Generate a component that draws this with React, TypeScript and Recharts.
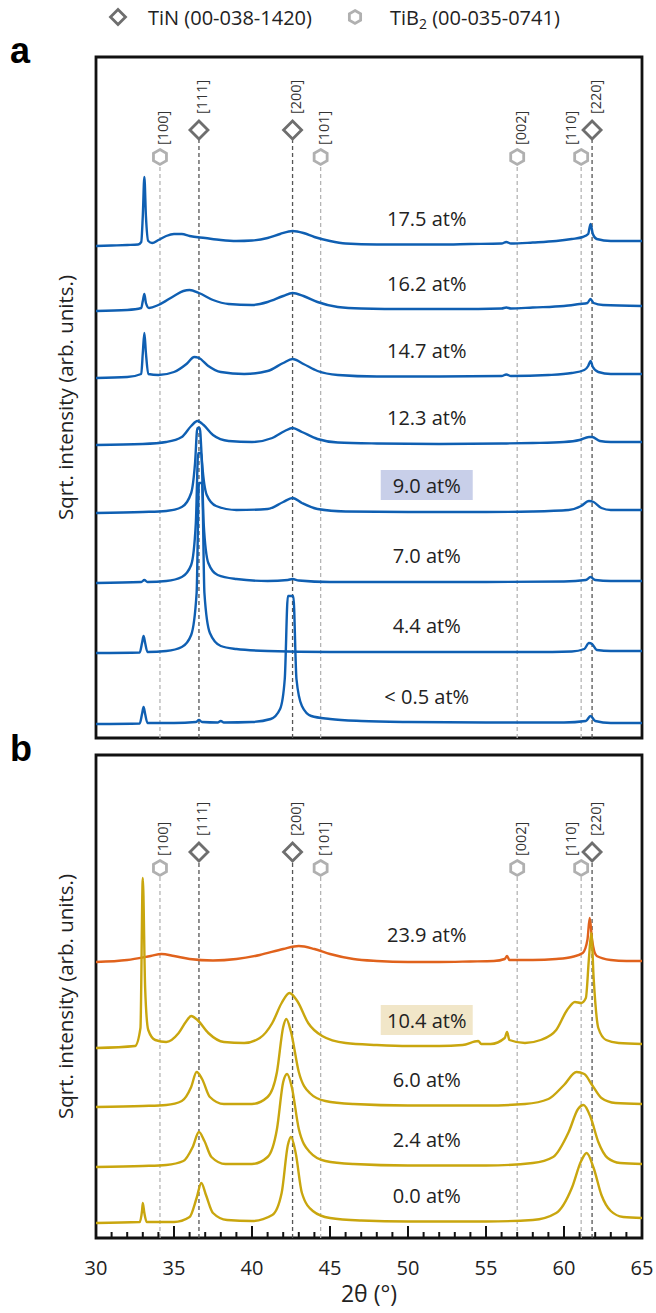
import React from "react";
import { LineChart, Line, XAxis, YAxis, ReferenceLine, ReferenceDot, ReferenceArea } from "recharts";

// 2θ positions of the reference reflections
const TIN_PEAKS = [36.6, 42.6, 61.8];
const TIN_HKL = ["[111]", "[200]", "[220]"];
const TIB2_PEAKS = [34.1, 44.4, 57.0, 61.1];
const TIB2_HKL = ["[100]", "[101]", "[002]", "[110]"];

const MAJOR_TICKS = [30, 35, 40, 45, 50, 55, 60, 65];

// panel a: labels, vertical offsets (arb.) and traces [2θ, sqrt intensity]
const LABELS_A = ["17.5 at%", "16.2 at%", "14.7 at%", "12.3 at%", "9.0 at%", "7.0 at%", "4.4 at%", "< 0.5 at%"];
const OFFSETS_A = [492, 427, 360, 293, 225, 155, 85, 14];

const A_175 = [[30,0],[31,0.5],[32,1],[32.7,1.5],[32.9,4],[33.0,30],[33.1,69],[33.2,30],[33.35,5],[33.6,3],[34,6],[34.5,10],[35,12],[35.5,12],[36,10],[37,8],[38,6],[39,5],[40,5.5],[41,8],[41.8,12],[42.6,15],[43.3,13],[44,9],[45,5],[46,2.5],[48,1.5],[50,1.5],[52,1.5],[54,2],[56,2.5],[56.3,4],[56.6,2.5],[58,3.5],[59.5,5],[60.5,7],[61.2,9],[61.55,12],[61.7,22],[61.85,12],[62.1,7],[63,5],[64,5],[65,5]];
const A_162 = [[30,0],[32,1],[32.9,3],[33.0,10],[33.1,17],[33.2,8],[33.4,3],[34,6],[35,15],[35.6,20],[36.0,21],[36.6,18],[37.5,11],[38.5,7],[40,6],[41,9],[42,15],[42.6,18],[43.3,15],[44.2,9],[45.5,4],[47,2.5],[50,2],[53,2],[56,2.5],[56.3,3.5],[56.6,2.5],[58,3.5],[60,5],[61,7],[61.5,8],[61.7,12],[61.9,8],[62.5,6],[65,5]];
const A_147 = [[30,0],[32,1],[32.9,4],[33.0,25],[33.1,45],[33.2,25],[33.35,4],[34,3],[35,6],[35.8,14],[36.3,21],[36.6,20],[37.2,12],[38,6],[39.5,4],[41,7],[42,15],[42.6,19],[43.3,14],[44.2,7],[45.5,3],[48,1.5],[52,1.5],[56,2],[56.3,3.5],[56.6,2],[59,3],[60.5,5],[61.3,8],[61.55,12],[61.7,17],[61.85,11],[62.2,6],[63,4],[65,4]];
const A_123 = [[30,0],[33,1],[34.5,3],[35.5,8],[36.1,19],[36.5,24],[36.9,20],[37.5,10],[38.5,4],[40,3],[41.3,7],[42.1,14],[42.6,17],[43.2,13],[44.2,6],[45.5,2.5],[48,1.5],[52,1],[56,1.5],[58,2],[60,3],[61,5],[61.6,8],[61.8,8],[62.3,4],[63,3],[65,3]];
const A_090 = [[30,0],[33,1],[34.5,2],[35.5,6],[36.1,20],[36.35,50],[36.5,85],[36.65,85],[36.8,50],[37.1,18],[37.7,7],[39,3],[41,4],[42,11],[42.6,15],[43.2,10],[44.2,4],[46,1.5],[50,1],[55,1],[58,1.5],[60.3,3],[61.1,7],[61.6,12],[61.9,11],[62.4,5],[63,3],[65,3]];
const A_070 = [[30,0],[32.9,1],[33.1,3],[33.3,1],[34.5,2],[35.5,6],[36.1,18],[36.4,60],[36.55,130],[36.75,130],[36.9,60],[37.2,20],[37.8,8],[39,4],[41,2],[42.3,3],[42.6,4],[43,2.5],[45,1],[50,1],[55,1],[60,1.5],[61.4,3],[61.7,6],[62,3],[63,2],[65,2]];
const A_044 = [[30,0],[32.8,0.5],[32.95,10],[33.05,17],[33.15,10],[33.3,1],[34.5,2],[35.5,6],[36.1,18],[36.45,60],[36.6,170],[36.8,170],[36.95,60],[37.3,20],[38,7],[39,4],[41,2],[45,1],[50,1],[55,1],[58,1],[60.5,1.5],[61.3,4],[61.6,10],[61.8,9],[62.1,3],[63,2],[65,2]];
const A_005 = [[30,0],[32.8,0.5],[32.95,10],[33.05,17],[33.15,10],[33.3,1],[35,1],[36.4,2],[36.6,4],[36.8,2],[37.8,1.5],[38.0,3],[38.2,1.5],[40,2],[41.2,5],[41.8,15],[42.1,45],[42.3,128],[42.65,128],[42.85,45],[43.2,18],[43.8,8],[45,5],[47,3],[50,2],[55,1.5],[60,1.5],[61.4,3],[61.7,8],[62,3],[63,1],[65,1]];
const TRACES_A = [A_175, A_162, A_147, A_123, A_090, A_070, A_044, A_005];

// panel b
const LABELS_B = ["23.9 at%", "10.4 at%", "6.0 at%", "2.4 at%", "0.0 at%"];
const OFFSETS_B = [276, 190, 131, 71, 15];

const B_239 = [[30,0],[32,2],[33.5,6],[34.2,8],[35,6],[36,3],[37.5,1.5],[39,3],[40.5,7],[42,13],[43,16],[44,13],[45,8],[46.5,3],[48,1],[50,0],[52,0],[54,0.5],[55.5,1],[56.2,3],[56.35,6],[56.5,2],[58,2],[59.5,3],[60.5,5],[61.2,9],[61.5,22],[61.65,44],[61.8,22],[62.1,6],[63,2],[64,1],[65,1]];
const B_104 = [[30,0],[32.5,2],[32.85,20],[33.0,170],[33.15,60],[33.35,18],[33.8,8],[34.5,6],[35.3,15],[35.8,27],[36.1,32],[36.5,28],[37.2,15],[38.2,6],[39.5,5],[40.5,10],[41.3,25],[41.9,45],[42.4,55],[42.9,47],[43.6,25],[44.5,12],[46,5],[48,3],[50,2],[52,2],[53.5,3],[54.5,7],[54.7,4],[55.3,4],[56.2,10],[56.35,16],[56.5,8],[57.5,5],[58.5,8],[59.5,18],[60.2,38],[60.7,46],[61.1,45],[61.4,50],[61.6,90],[61.75,115],[61.9,70],[62.2,20],[62.7,8],[63.5,5],[65,4]];
const B_060 = [[30,0],[33,1],[34.5,2],[35.5,6],[36.1,20],[36.45,35],[36.8,28],[37.3,10],[38.2,3],[40,3],[41,10],[41.6,35],[42.0,80],[42.2,88],[42.5,75],[43.0,35],[43.7,14],[44.7,6],[46.5,3],[50,1.5],[55,1.5],[57.5,3],[59,8],[60,22],[60.8,35],[61.3,33],[61.8,22],[62.4,9],[63.3,4],[65,3]];
const B_024 = [[30,0],[33,1],[34.5,2],[35.6,6],[36.2,20],[36.6,35],[36.95,26],[37.4,10],[38.3,3],[40,3],[41,10],[41.6,38],[42.0,85],[42.25,93],[42.55,80],[43.0,38],[43.7,15],[44.7,6],[46.5,3],[50,1.5],[55,1.5],[58,4],[59.3,10],[60.3,35],[60.9,58],[61.25,62],[61.7,50],[62.2,25],[62.8,9],[63.6,4],[65,3]];
const B_000 = [[30,0],[32.8,1],[32.95,12],[33.0,20],[33.1,10],[33.25,1],[35,1],[36,6],[36.45,25],[36.75,40],[37.05,28],[37.5,10],[38.4,3],[40,2],[41.3,8],[41.9,30],[42.3,78],[42.5,86],[42.8,70],[43.2,30],[43.9,12],[45,5],[47,2.5],[50,1.5],[55,1.5],[58,3],[59.5,10],[60.5,35],[61.1,62],[61.45,70],[61.9,55],[62.4,28],[63,12],[63.8,6],[65,5]];
const TRACES_B = [B_239, B_104, B_060, B_024, B_000];
const COLORS_B = ["#e0621c", "#c9a60e", "#c9a60e", "#c9a60e", "#c9a60e"];

const BLUE = "#0f5fb2";
const FONT = "'Open Sans', 'Noto Sans', sans-serif";
const MINOR_TICKS = Array.from({ length: 36 }, (_, i) => 30 + i);

function toPoints(trace: number[][], offset: number) {
  return trace.map(([x, h]) => ({ x, y: h + offset }));
}

function makeTick(showLabel: boolean) {
  return (props: any) => {
    const { x, y, payload } = props;
    const v = payload.value;
    const major = MAJOR_TICKS.includes(v);
    const len = major ? 12 : 6;
    return (
      <g>
        {v !== 30 && v !== 65 && (
          <line x1={x} x2={x} y1={y} y2={y - len} stroke="#111" strokeWidth={2} />
        )}
        {showLabel && major && (
          <text x={x} y={y + 37} textAnchor="middle" fontSize={20} fill="#222">
            {v}
          </text>
        )}
      </g>
    );
  };
}

function Diamond({ cx, cy, s = 9 }: { cx: number; cy: number; s?: number }) {
  return (
    <polygon
      points={`${cx},${cy - s} ${cx + s},${cy} ${cx},${cy + s} ${cx - s},${cy}`}
      fill="white"
      stroke="#6e6e6e"
      strokeWidth={2.8}
    />
  );
}

function Hexagon({ cx, cy, r = 7.5 }: { cx: number; cy: number; r?: number }) {
  const pts = [0, 1, 2, 3, 4, 5]
    .map((i) => {
      const a = (Math.PI / 3) * i - Math.PI / 2;
      return `${cx + r * Math.cos(a)},${cy + r * Math.sin(a)}`;
    })
    .join(" ");
  return <polygon points={pts} fill="white" stroke="#b0b0b0" strokeWidth={2.8} />;
}

function markerShape(kind: "tin" | "tib2", label: string) {
  return (props: any) => {
    const { cx, cy } = props;
    const dx = label === "[110]" ? -11 : 3;
    const ty = kind === "tin" ? cy - 16 : cy - 12;
    const tx = cx + dx;
    return (
      <g>
        {kind === "tin" ? <Diamond cx={cx} cy={cy} /> : <Hexagon cx={cx} cy={cy} />}
        <text
          x={tx}
          y={ty}
          transform={`rotate(-90 ${tx} ${ty})`}
          textAnchor="start"
          dominantBaseline="central"
          fontSize={14.5}
          fill="#333"
        >
          {label}
        </text>
      </g>
    );
  };
}

function curveLabel(text: string, highlight?: string) {
  return (props: any) => {
    const { cx, cy } = props;
    return (
      <g>
        {highlight && <rect x={cx - 46} y={cy - 15} width={92} height={30} fill={highlight} />}
        <text x={cx} y={cy} textAnchor="middle" dominantBaseline="central" fontSize={20} fill="#222">
          {text}
        </text>
      </g>
    );
  };
}

function Refs(tinY: number, tib2Y: number) {
  const out: React.ReactNode[] = [];
  TIB2_PEAKS.forEach((p, i) => {
    out.push(
      <ReferenceLine
        key={`bl${i}`}
        segment={[{ x: p, y: 0 }, { x: p, y: tib2Y - 9 }]}
        stroke="#b4b4b4"
        strokeWidth={1.3}
        strokeDasharray="4 3"
      />
    );
  });
  TIN_PEAKS.forEach((p, i) => {
    out.push(
      <ReferenceLine
        key={`nl${i}`}
        segment={[{ x: p, y: 0 }, { x: p, y: tinY - 10 }]}
        stroke="#555"
        strokeWidth={1.3}
        strokeDasharray="4 3"
      />
    );
  });
  return out;
}

function Markers(tinY: number, tib2Y: number) {
  const out: React.ReactNode[] = [];
  TIB2_PEAKS.forEach((p, i) => {
    out.push(<ReferenceDot key={`bd${i}`} x={p} y={tib2Y} r={7} shape={markerShape("tib2", TIB2_HKL[i])} />);
  });
  TIN_PEAKS.forEach((p, i) => {
    out.push(<ReferenceDot key={`nd${i}`} x={p} y={tinY} r={8} shape={markerShape("tin", TIN_HKL[i])} />);
  });
  return out;
}

const H_A = 681;
const H_B = 483;
const LABEL_X = 51.2;
const yLabel = {
  value: "Sqrt. intensity (arb. units.)",
  angle: -90,
  position: "center" as const,
  dx: 18,
  style: { fontSize: 20.5, fill: "#222", textAnchor: "middle" as const },
};

const panelLetter: React.CSSProperties = {
  position: "absolute",
  left: 10,
  fontSize: 36,
  fontWeight: 700,
  fontFamily: "'Liberation Sans', Arial, sans-serif",
  lineHeight: "40px",
};

export default function App() {
  return (
    <div
      style={{
        position: "absolute",
        left: 0,
        top: 0,
        width: 656,
        height: 1313,
        background: "#fff",
        fontFamily: FONT,
        overflow: "hidden",
      }}
    >
      {/* legend */}
      <svg width={656} height={40} style={{ position: "absolute", left: 0, top: 0 }}>
        <Diamond cx={118} cy={17} s={7.5} />
        <text x={148} y={17} dominantBaseline="central" fontSize={20} fill="#222">
          TiN (00-038-1420)
        </text>
        <Hexagon cx={355} cy={17} r={6.5} />
        <text x={390} y={17} dominantBaseline="central" fontSize={20} fill="#222">
          TiB<tspan fontSize={14} dy={6}>2</tspan>
          <tspan dy={-6}> (00-035-0741)</tspan>
        </text>
      </svg>
      <div style={{ ...panelLetter, top: 31 }}>a</div>
      <div style={{ ...panelLetter, top: 729 }}>b</div>

      {/* panel a */}
      <div style={{ position: "absolute", left: 0, top: 0 }}>
        <LineChart width={656} height={745} margin={{ top: 57, right: 14, bottom: 7, left: 0 }}>
          <XAxis
            type="number"
            dataKey="x"
            domain={[30, 65]}
            ticks={MINOR_TICKS}
            interval={0}
            allowDataOverflow
            height={0}
            tickSize={0}
            tickMargin={0}
            axisLine={false}
            tickLine={false}
            tick={makeTick(false)}
          />
          <YAxis type="number" domain={[0, H_A]} allowDataOverflow width={96} tick={false} axisLine={false} tickLine={false} label={yLabel} />
          {Refs(608, 581)}
          {TRACES_A.map((t, i) => (
            <Line
              key={i}
              data={toPoints(t, OFFSETS_A[i])}
              dataKey="y"
              type="monotone"
              stroke={BLUE}
              strokeWidth={2.4}
              dot={false}
              isAnimationActive={false}
            />
          ))}
          {Markers(608, 581)}
          {LABELS_A.map((l, i) => (
            <ReferenceDot
              key={`la${i}`}
              x={LABEL_X}
              y={OFFSETS_A[i] + 28}
              r={1}
              shape={curveLabel(l, i === 4 ? "#c8cfe9" : undefined)}
            />
          ))}
          <ReferenceArea x1={30} x2={65} y1={0} y2={H_A} fill="none" fillOpacity={0} stroke="#111" strokeWidth={2.8} />
        </LineChart>
      </div>

      {/* panel b */}
      <div style={{ position: "absolute", left: 0, top: 745 }}>
        <LineChart width={656} height={568} margin={{ top: 10, right: 14, bottom: 0, left: 0 }}>
          <XAxis
            type="number"
            dataKey="x"
            domain={[30, 65]}
            ticks={MINOR_TICKS}
            interval={0}
            allowDataOverflow
            height={75}
            tickSize={0}
            tickMargin={0}
            axisLine={false}
            tickLine={false}
            tick={makeTick(true)}
            label={{ value: "2θ (°)", position: "insideBottom", offset: 11, style: { fontSize: 23, fill: "#222" } }}
          />
          <YAxis type="number" domain={[0, H_B]} allowDataOverflow width={96} tick={false} axisLine={false} tickLine={false} label={yLabel} />
          {Refs(386, 370)}
          {TRACES_B.map((t, i) => (
            <Line
              key={i}
              data={toPoints(t, OFFSETS_B[i])}
              dataKey="y"
              type="monotone"
              stroke={COLORS_B[i]}
              strokeWidth={2.4}
              dot={false}
              isAnimationActive={false}
            />
          ))}
          {Markers(386, 370)}
          {LABELS_B.map((l, i) => (
            <ReferenceDot
              key={`lb${i}`}
              x={LABEL_X}
              y={OFFSETS_B[i] + 28}
              r={1}
              shape={curveLabel(l, i === 1 ? "#f1e6c8" : undefined)}
            />
          ))}
          <ReferenceArea x1={30} x2={65} y1={0} y2={H_B} fill="none" fillOpacity={0} stroke="#111" strokeWidth={2.8} />
        </LineChart>
      </div>
    </div>
  );
}
